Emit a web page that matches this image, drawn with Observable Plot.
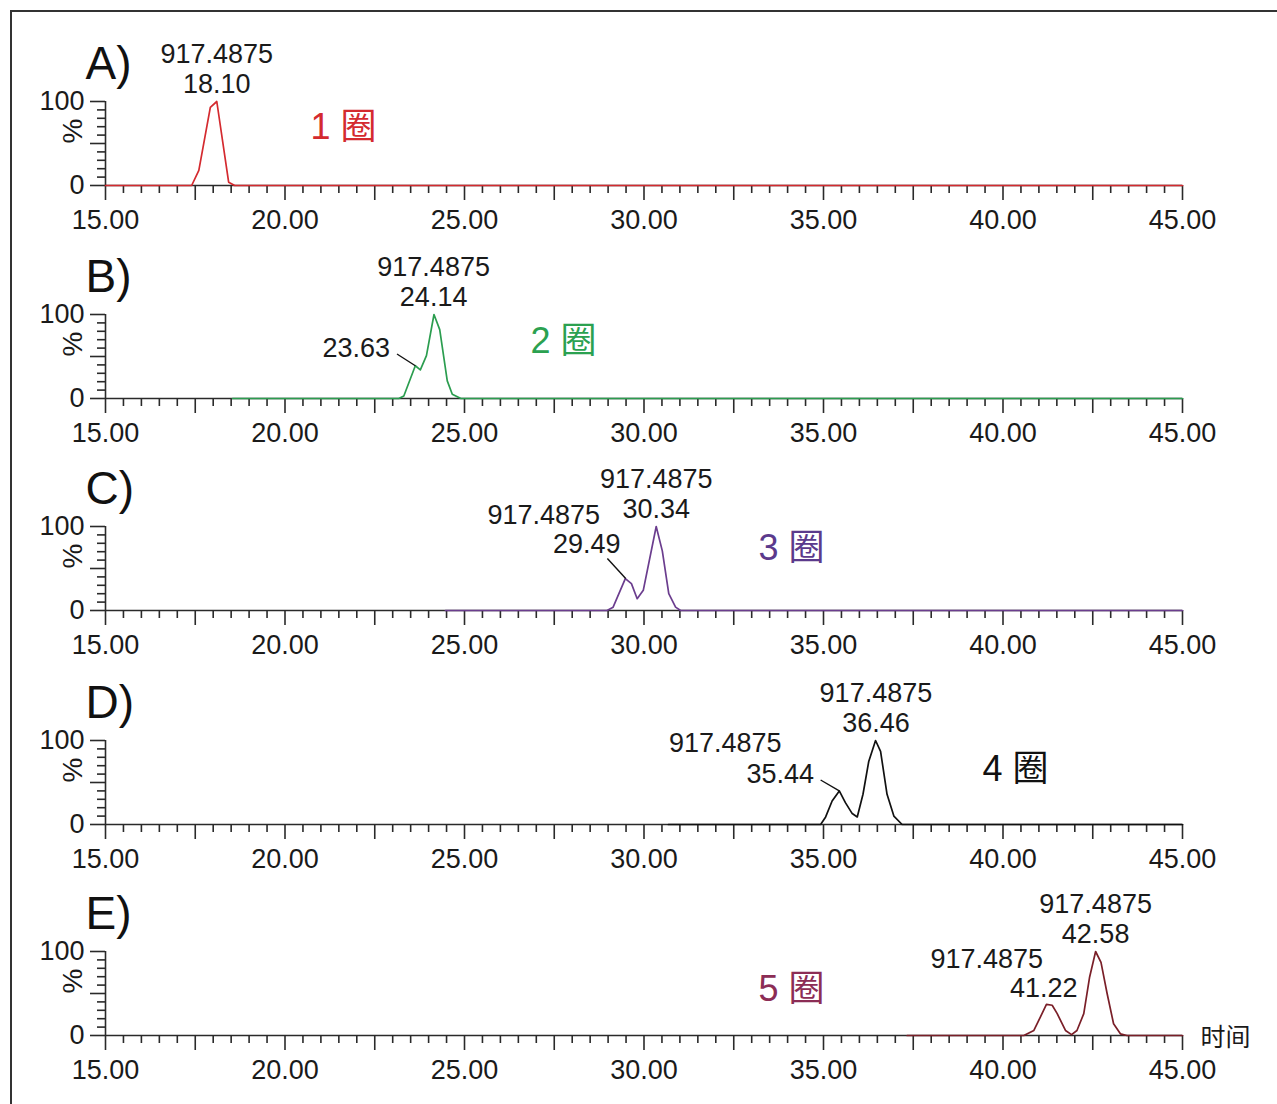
<!DOCTYPE html>
<html>
<head>
<meta charset="utf-8">
<script src="https://cdn.jsdelivr.net/npm/d3@7"></script>
<script src="https://cdn.jsdelivr.net/npm/@observablehq/plot@0.6"></script>
<style>
  html, body { margin: 0; padding: 0; background: #fff; }
  #wrap { position: relative; width: 1277px; height: 1104px; overflow: hidden; background: #fff; }
  #frame { position: absolute; left: 10px; top: 10px; width: 1400px; height: 1200px; border-left: 2px solid #333; border-top: 2px solid #333; }
  .panel { position: absolute; left: 0; }
</style>
</head>
<body>
<div id="wrap"><div id="frame"></div></div>
<script>
// ---------- data ----------
const panelLetters = ["A)", "B)", "C)", "D)", "E)"];
const lapLabels = ["1 圈", "2 圈", "3 圈", "4 圈", "5 圈"];
const xTickValues = [15, 20, 25, 30, 35, 40, 45];
const yTickValues = [0, 100];
const massLabel = "917.4875";
const timeLabel = "时间";
const yLabel = "%";

const timeA = [15, 17.40, 17.60, 17.92, 18.10, 18.43, 18.60, 45];
const intA  = [0, 0, 18, 93, 100, 4, 0, 0];
const timeB = [18.54, 23.17, 23.31, 23.63, 23.77, 23.94, 24.15, 24.31, 24.52, 24.66, 24.90, 45];
const intB  = [0, 0, 3, 39, 34, 51, 100, 82, 21, 5, 0, 0];
const timeC = [24.47, 28.97, 29.14, 29.48, 29.65, 29.81, 29.98, 30.34, 30.51, 30.69, 30.88, 31.02, 45];
const intC  = [0, 0, 4, 38, 32, 14, 24, 100, 71, 20, 4, 0, 0];
const timeD = [30.68, 34.92, 35.06, 35.24, 35.44, 35.61, 35.80, 35.94, 36.10, 36.26, 36.45, 36.59, 36.77, 36.96, 37.19, 45];
const intD  = [0, 0, 9, 28, 40, 26, 13, 9, 36, 75, 100, 87, 36, 10, 0, 0];
const timeE = [37.33, 40.58, 40.86, 41.04, 41.21, 41.37, 41.51, 41.74, 41.91, 42.06, 42.25, 42.41, 42.58, 42.73, 42.90, 43.08, 43.27, 43.45, 45];
const intE  = [0, 0, 6, 22, 37, 36, 26, 6, 1, 6, 26, 69, 100, 87, 50, 14, 2, 0, 0];

// main peak (retention time, intensity) and secondary peak per panel
const mainPeakRT  = [18.10, 24.14, 30.34, 36.46, 42.58];
const mainPeakInt = [100, 100, 100, 100, 100];
const secPeakRT   = [null, 23.63, 29.49, 35.44, 41.22];
const secPeakInt  = [null, 39, 38, 40, 37];
const secShowMass = [false, false, true, true, true];

// ---------- styles / layout ----------
const traceColors = ["#d42a2f", "#2b9d4f", "#6b3d8e", "#111111", "#7a1f28"];
const lapColors   = ["#d42a2f", "#2ba150", "#5b3a8c", "#111111", "#8c2d55"];
const panelTops = [25, 238, 450, 664, 875];
// lap label placement (time, %)
const lapPos = [[20.71, 69], [26.84, 68], [33.19, 74], [39.43, 66], [33.19, 55]];
// secondary label offsets in px relative to peak point: [rt dx, rt dy, mass dx, mass dy]
const secOffsets = [null, [-59, -17, 0, 0], [-39, -34, -82, -63], [-59, -17, -114, -48], [-3, -16, -60, -45]];
// leader line end (delta time, delta %) from peak
const leaderEnd = [null, [-0.51, 14], [-0.51, 24], [-0.52, 13], null];

const times = [timeA, timeB, timeC, timeD, timeE];
const ints  = [intA, intB, intC, intD, intE];

const FONT = "'Liberation Sans', Arial, Helvetica, 'Noto Sans CJK SC', sans-serif";
const CJK = "'Liberation Sans', Arial, 'Noto Sans CJK SC', sans-serif";
const AXC = "#2a2a2a";
const TXT = "#1a1a1a";

const wrap = document.getElementById("wrap");

const range = (a, b, s) => d3.range(a, b + 1e-9, s).map(v => +v.toFixed(2));
const minorX = range(15, 45, 0.5).filter(v => v % 2.5 !== 0);
const midX = range(17.5, 45, 5);
const minorY = range(10, 90, 10).filter(v => v !== 50);

for (let p = 0; p < 5; p++) {
  const trace = times[p].map((t, k) => ({t, v: ints[p][k]}));
  const main = [{t: mainPeakRT[p], v: mainPeakInt[p], rt: mainPeakRT[p].toFixed(2)}];
  const marks = [
    // axis lines
    Plot.ruleY([0], {x1: 15, x2: 45, stroke: AXC, strokeWidth: 1.6}),
    Plot.ruleX([15], {y1: 0, y2: 100, stroke: AXC, strokeWidth: 1.6}),
    // x ticks
    Plot.axisX({ticks: xTickValues, tickSize: 15, tickPadding: 9, tickFormat: d => d.toFixed(2), strokeWidth: 1.6, fontSize: 27, fill: TXT, label: null}),
    Plot.axisX({ticks: midX, tickSize: 15, tickFormat: () => "", strokeWidth: 1.6, label: null}),
    Plot.axisX({ticks: minorX, tickSize: 8, tickFormat: () => "", strokeWidth: 1.6, label: null}),
    // y ticks
    Plot.axisY({ticks: yTickValues, tickSize: 15, tickPadding: 6, strokeWidth: 1.6, fontSize: 27, fill: TXT, label: null}),
    Plot.axisY({ticks: [50], tickSize: 15, tickFormat: () => "", strokeWidth: 1.6, label: null}),
    Plot.axisY({ticks: minorY, tickSize: 8, tickFormat: () => "", strokeWidth: 1.6, label: null}),
    Plot.text([yLabel], {frameAnchor: "left", y: 50, dx: -32, rotate: -90, text: d => d, fontSize: 28, fill: TXT}),
    // trace
    Plot.line(trace, {x: "t", y: "v", stroke: traceColors[p], strokeWidth: 1.7, curve: "linear"}),
    // panel letter
    Plot.text([panelLetters[p]], {frameAnchor: "top-left", dx: -20, dy: -37, text: d => d, textAnchor: "start", lineAnchor: "middle", fontSize: 46, fill: "#111"}),
    // lap label
    Plot.text([lapLabels[p]], {x: lapPos[p][0], y: lapPos[p][1], text: d => d, textAnchor: "start", lineAnchor: "middle", fontSize: 36, fill: lapColors[p], fontFamily: CJK}),
    // main peak labels
    Plot.text(main, {x: "t", y: "v", text: () => massLabel, dy: -47, lineAnchor: "middle", fontSize: 27, fill: TXT}),
    Plot.text(main, {x: "t", y: "v", text: "rt", dy: -17, lineAnchor: "middle", fontSize: 27, fill: TXT})
  ];
  if (secPeakRT[p] != null) {
    const sec = [{t: secPeakRT[p], v: secPeakInt[p], rt: secPeakRT[p].toFixed(2)}];
    const o = secOffsets[p];
    marks.push(Plot.text(sec, {x: "t", y: "v", text: "rt", dx: o[0], dy: o[1], lineAnchor: "middle", fontSize: 27, fill: TXT}));
    if (secShowMass[p]) {
      marks.push(Plot.text(sec, {x: "t", y: "v", text: () => massLabel, dx: o[2], dy: o[3], lineAnchor: "middle", fontSize: 27, fill: TXT}));
    }
    if (leaderEnd[p]) {
      const le = leaderEnd[p];
      marks.push(Plot.link(sec, {x1: "t", y1: "v", x2: d => d.t + le[0], y2: d => d.v + le[1], stroke: "#111", strokeWidth: 1.4}));
    }
  }
  if (p === 4) {
    marks.push(Plot.text([timeLabel], {x: 45, y: 0, dx: 18, dy: 2, text: d => d, textAnchor: "start", lineAnchor: "middle", fontSize: 25, fill: TXT, fontFamily: CJK}));
  }
  const chart = Plot.plot({
    width: 1277,
    height: 212,
    marginLeft: 105,
    marginRight: 95,
    marginTop: 76,
    marginBottom: 52,
    x: {domain: [15, 45]},
    y: {domain: [0, 100]},
    style: {fontFamily: FONT, fontSize: "27px", color: AXC, background: "transparent", overflow: "visible"},
    marks
  });
  chart.classList.add("panel");
  chart.style.top = panelTops[p] + "px";
  chart.style.position = "absolute";
  chart.style.left = "0px";
  wrap.appendChild(chart);
}
</script>
</body>
</html>
